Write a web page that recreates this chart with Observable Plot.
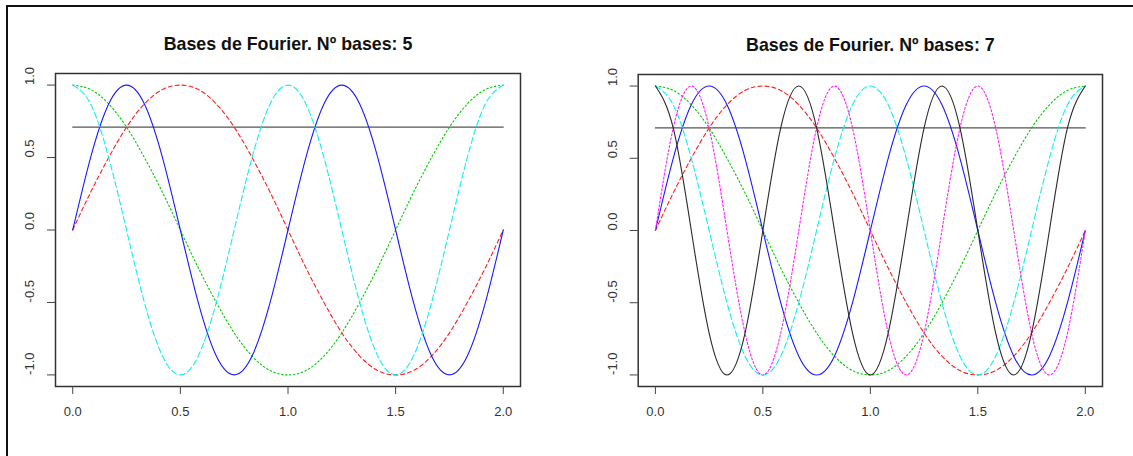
<!DOCTYPE html>
<html><head><meta charset="utf-8">
<script src="https://cdn.jsdelivr.net/npm/d3@7"></script>
<script src="https://cdn.jsdelivr.net/npm/@observablehq/plot@0.6"></script>
<style>
body{margin:0;background:#fff;}
#wrap{position:relative;width:1133px;height:456px;overflow:hidden;background:#fff;font-family:"Liberation Sans",Arial,sans-serif;}
#border{position:absolute;left:6px;top:5px;width:1127px;height:451px;border-top:2px solid #111;border-left:2px solid #111;box-sizing:border-box;}
.panel{position:absolute;top:0;}
</style></head><body>
<div id="wrap"><div id="border"></div><div id="p1" class="panel" style="left:0"></div><div id="p2" class="panel" style="left:566px"></div></div>
<script>
// evaluation points (t in [0, 2])
const t = [0, 0.083, 0.167, 0.25, 0.333, 0.417, 0.5, 0.583, 0.667, 0.75, 0.833, 0.917, 1,
           1.083, 1.167, 1.25, 1.333, 1.417, 1.5, 1.583, 1.667, 1.75, 1.833, 1.917, 2];
// basis values
const constLevel = 0.71;
const sin1 = [0, 0.26, 0.5, 0.71, 0.87, 0.97, 1, 0.97, 0.87, 0.71, 0.5, 0.26, 0,
              -0.26, -0.5, -0.71, -0.87, -0.97, -1, -0.97, -0.87, -0.71, -0.5, -0.26, 0];
const cos1 = [1, 0.97, 0.87, 0.71, 0.5, 0.26, 0, -0.26, -0.5, -0.71, -0.87, -0.97, -1,
              -0.97, -0.87, -0.71, -0.5, -0.26, 0, 0.26, 0.5, 0.71, 0.87, 0.97, 1];
const sin2 = [0, 0.5, 0.87, 1, 0.87, 0.5, 0, -0.5, -0.87, -1, -0.87, -0.5, 0,
              0.5, 0.87, 1, 0.87, 0.5, 0, -0.5, -0.87, -1, -0.87, -0.5, 0];
const cos2 = [1, 0.87, 0.5, 0, -0.5, -0.87, -1, -0.87, -0.5, 0, 0.5, 0.87, 1,
              0.87, 0.5, 0, -0.5, -0.87, -1, -0.87, -0.5, 0, 0.5, 0.87, 1];
const sin3 = [0, 0.71, 1, 0.71, 0, -0.71, -1, -0.71, 0, 0.71, 1, 0.71, 0,
              -0.71, -1, -0.71, 0, 0.71, 1, 0.71, 0, -0.71, -1, -0.71, 0];
const cos3 = [1, 0.71, 0, -0.71, -1, -0.71, 0, 0.71, 1, 0.71, 0, -0.71, -1,
              -0.71, 0, 0.71, 1, 0.71, 0, -0.71, -1, -0.71, 0, 0.71, 1];
const xTicks = [0, 0.5, 1, 1.5, 2];
const yTicks = [-1, -0.5, 0, 0.5, 1];
const titles = ["Bases de Fourier. Nº bases: 5", "Bases de Fourier. Nº bases: 7"];

const values = {sin1, cos1, sin2, cos2, sin3, cos3};
const styles = {
  sin1: {stroke: "#ff2020", dash: "4,3"},
  cos1: {stroke: "#00cd00", dash: "1.5,2.5"},
  sin2: {stroke: "#1a1aff", dash: null},
  cos2: {stroke: "#10f0f0", dash: "6,3"},
  sin3: {stroke: "#ff20ff", dash: "2,2"},
  cos3: {stroke: "#2a2a2a", dash: null}
};

function panel(names, title, ml, mr, mt, mb, width, labelDx) {
  const marks = [];
  marks.push(Plot.lineY([{t: 0, v: constLevel}, {t: 2, v: constLevel}], {x: "t", y: "v", stroke: "#555", strokeWidth: 1.2}));
  for (const n of names) {
    const rows = t.map((x, i) => ({t: x, v: values[n][i]}));
    marks.push(Plot.line(rows, {x: "t", y: "v", stroke: styles[n].stroke, strokeWidth: 1.1,
      strokeDasharray: styles[n].dash || undefined, curve: "natural"}));
  }
  marks.push(Plot.frame({stroke: "#333", strokeWidth: 1.5}));
  marks.push(Plot.axisX({ticks: xTicks, tickSize: 8, tickFormat: () => "", stroke: "#444", label: null}));
  marks.push(Plot.axisY({ticks: yTicks, tickSize: 8, tickFormat: () => "", stroke: "#444", label: null}));
  marks.push(Plot.text(xTicks, {x: d => d, text: d => d.toFixed(1), frameAnchor: "bottom", dy: 29, fontSize: 13, fill: "#333"}));
  marks.push(Plot.text(yTicks, {y: d => d, text: d => d.toFixed(1), frameAnchor: "left", dx: labelDx, rotate: -90, fontSize: 13, fill: "#333"}));
  marks.push(Plot.text([title], {text: d => d, frameAnchor: "top", dy: -36.5, fontSize: 17.8, fontWeight: "bold", fill: "#111"}));
  return Plot.plot({
    width, height: 456,
    marginLeft: ml, marginRight: mr, marginTop: mt, marginBottom: mb,
    x: {domain: [-0.08, 2.08], axis: null, label: null},
    y: {domain: [-1.08, 1.08], axis: null, label: null},
    style: {fontFamily: "'Liberation Sans', Arial, sans-serif", background: "transparent", overflow: "visible"},
    marks
  });
}

document.getElementById("p1").appendChild(
  panel(["sin1", "cos1", "sin2", "cos2"], titles[0], 55, 46, 73, 70, 566, -26));
document.getElementById("p2").appendChild(
  panel(["sin1", "cos1", "sin2", "cos2", "sin3", "cos3"], titles[1], 71.7, 31, 74, 70, 567, -25.7));
</script>
</body></html>
